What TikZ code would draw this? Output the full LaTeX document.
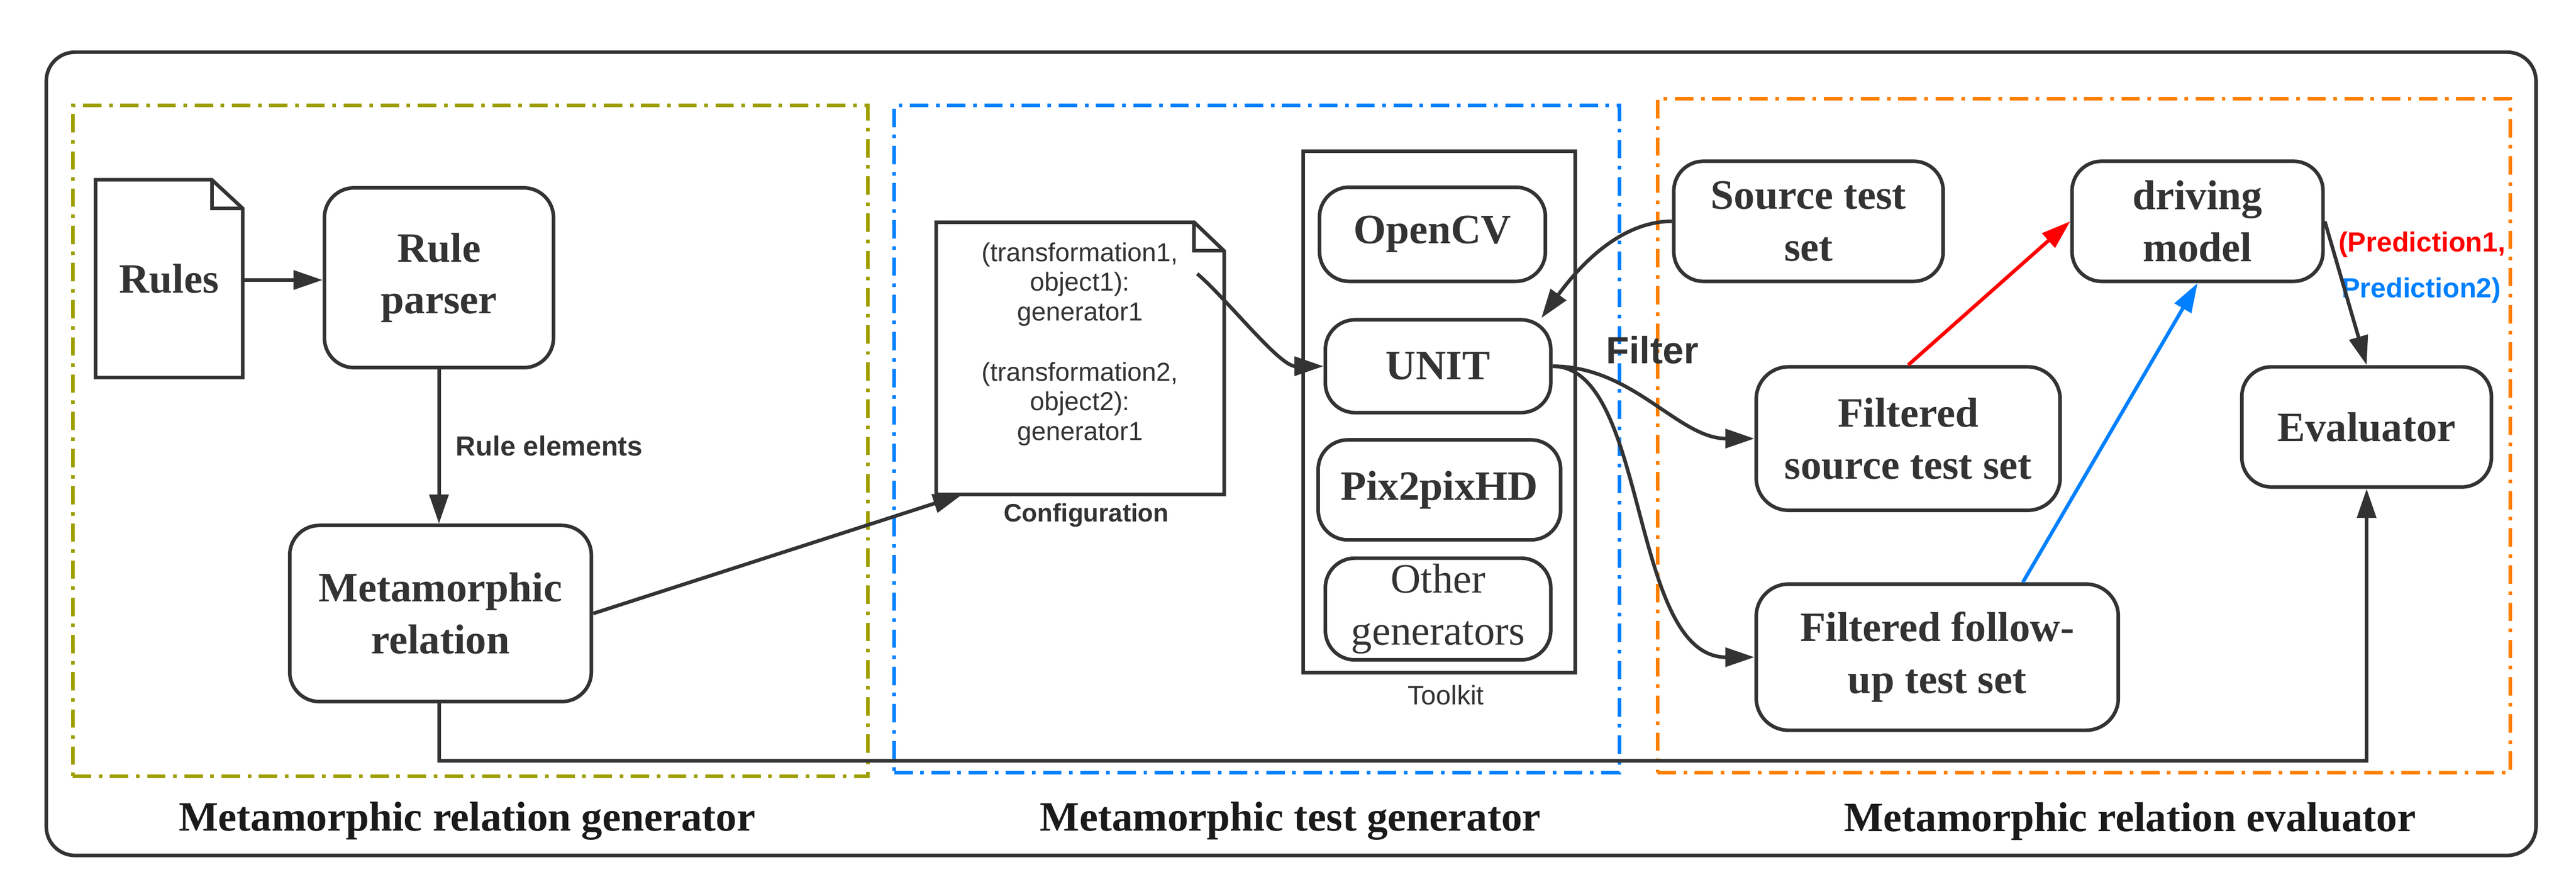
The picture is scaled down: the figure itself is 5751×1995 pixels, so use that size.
\documentclass[tikz,border=0pt]{standalone}
\usepackage{fontspec}
\setmainfont{Liberation Serif}
\setsansfont{Liberation Sans}
\usetikzlibrary{arrows.meta,calc}
\definecolor{dk}{HTML}{333333}
\definecolor{ttl}{HTML}{1A1A1A}
\definecolor{gframecol}{HTML}{9E9E00}
\definecolor{bframecol}{HTML}{0080FF}
\definecolor{oframecol}{HTML}{FF8000}
\definecolor{redarr}{HTML}{FF0000}
\definecolor{bluearr}{HTML}{0080FF}
\tikzset{
  box/.style={draw=dk, line width=0.08cm, rounded corners=0.66cm, align=center,
    font=\bfseries\fontsize{26.5}{33}\selectfont, text=dk, inner sep=0pt},
  docnode/.style={draw=none, inner sep=0pt, align=center, text=dk},
  docline/.style={draw=dk, line width=0.08cm, line join=miter},
  frame/.style={draw, line width=0.08cm, dash pattern=on 0.41cm off 0.17cm on 0.08cm off 0.17cm, inner sep=0pt},
  ttlnode/.style={font=\bfseries\fontsize{26.5}{33}\selectfont, text=ttl},
  lblnode/.style={font=\sffamily\bfseries\fontsize{17.5}{21}\selectfont, text=dk, inner sep=0pt},
  arr/.style={color=dk, line width=0.08cm, -{Triangle[length=0.65cm,width=0.42cm]}},
  plainline/.style={draw=dk, line width=0.08cm},
}
\begin{document}
\begin{tikzpicture}[x=0.01cm,y=-0.01cm]
\useasboundingbox (0,0) rectangle (5751,1995);
% outer
\node[draw=dk, line width=0.08cm, rounded corners=0.64cm, minimum width=55.55cm, minimum height=17.92cm] (outer) at (2882.5,1013) {};
% frames
\node[frame, draw=gframecol, minimum width=17.74cm, minimum height=14.96cm] (gframe) at (1050,984) {};
\node[frame, draw=bframecol, minimum width=16.18cm, minimum height=14.88cm] (bframe) at (2806,980) {};
\node[frame, draw=oframecol, minimum width=19.03cm, minimum height=15.03cm] (oframe) at (4652.5,972.5) {};
% titles
\node[ttlnode] (t1) at (1043,1833) {Metamorphic relation generator};
\node[ttlnode] (t2) at (2881,1833) {Metamorphic test generator};
\node[ttlnode] (t3) at (4755,1833) {Metamorphic relation evaluator};
% Rules document
\node[docnode, minimum width=3.27cm, minimum height=4.40cm, font=\bfseries\fontsize{26.5}{33}\selectfont] (rules) at (377.5,622) {Rules};
\draw[docline] (rules.south west) -- (rules.north west) -- ($(rules.north east)+(-69,0)$) -- ($(rules.north east)+(0,64)$) -- (rules.south east) -- cycle;
\draw[docline] ($(rules.north east)+(-69,0)$) -- ($(rules.north east)+(-69,64)$) -- ($(rules.north east)+(0,64)$);
% generator boxes
\node[box, minimum width=5.11cm, minimum height=4.01cm] (parser) at (980,620) {Rule\\parser};
\node[box, minimum width=6.73cm, minimum height=3.93cm] (mr) at (983.5,1369.5) {Metamorphic\\relation};
\node[lblnode, anchor=west] (rulel) at (1017,995) {Rule elements};
% Configuration document
\node[docnode, minimum width=6.41cm, minimum height=6.06cm] (config) at (2411.5,800) {};
\draw[docline] (config.south west) -- (config.north west) -- ($(config.north east)+(-67,0)$) -- ($(config.north east)+(0,64)$) -- (config.south east) -- cycle;
\draw[docline] ($(config.north east)+(-67,0)$) -- ($(config.north east)+(-67,64)$) -- ($(config.north east)+(0,64)$);
\node[docnode, font=\sffamily\fontsize{16.5}{18.8}\selectfont] (conftext) at (2411,768)
  {(transformation1,\\object1):\\generator1\\[0.69cm](transformation2,\\object2):\\generator1};
\node[lblnode, font=\sffamily\bfseries\fontsize{16}{19}\selectfont] (conflbl) at (2425,1150) {Configuration};
% Toolkit
\node[draw=dk, line width=0.08cm, minimum width=6.06cm, minimum height=11.63cm, inner sep=0pt] (toolkit) at (3213,919.5) {};
\node[font=\sffamily\fontsize{17}{20}\selectfont, text=dk, inner sep=0pt] (toolkitlbl) at (3228,1552) {Toolkit};
\node[box, minimum width=5.04cm, minimum height=2.10cm] (opencv) at (3198,523) {OpenCV};
\node[box, minimum width=5.03cm, minimum height=2.07cm] (unit) at (3210.5,817.5) {UNIT};
\node[box, minimum width=5.41cm, minimum height=2.23cm] (pix) at (3213.5,1093.5) {Pix2pixHD};
\node[box, minimum width=5.03cm, minimum height=2.27cm, font=\fontsize{26.5}{33}\selectfont] (other) at (3210.5,1359.5) {Other\\generators};
% evaluator side
\node[box, minimum width=6.01cm, minimum height=2.68cm] (source) at (4037.5,494) {Source test\\set};
\node[box, minimum width=5.60cm, minimum height=2.68cm] (drive) at (4906,494) {driving\\model};
\node[box, minimum width=6.78cm, minimum height=3.20cm, rounded corners=0.72cm] (fsrc) at (4260,979) {Filtered\\source test set};
\node[box, minimum width=8.08cm, minimum height=3.26cm, rounded corners=0.72cm] (fup) at (4325,1467) {Filtered follow-\\up test set};
\node[box, minimum width=5.57cm, minimum height=2.68cm] (eval) at (5283.5,953) {Evaluator};
\node[lblnode, font=\sffamily\bfseries\fontsize{24}{28}\selectfont, anchor=base west] (filter) at (3585,812) {Filter};
\node[lblnode, text=redarr, anchor=west] (pred1) at (5220,546) {(Prediction1,};
\node[lblnode, text=bluearr, anchor=west] (pred2) at (5227,648) {Prediction2)};
% connectors
\draw[arr] ([yshift=-0.03cm]rules.east) -- ([yshift=-0.03cm]rules.east -| parser.west);
\draw[arr] (parser.south) -- (parser.south |- mr.north);
\draw[arr] (mr.east) -- ($(config.south west)+(58,0)$);
\draw[arr] ($(config.north east)+(-60,115)$) .. controls +(68,58) and +(-99,0) .. (unit.west);
\draw[arr] (source.west) .. controls +(-117,0) and +(83,-114) .. ([xshift=-0.25cm]unit.north east);
\draw[arr] (unit.east) .. controls +(180,0) and +(-170,0) .. (fsrc.west);
\draw[arr] (unit.east) .. controls +(215,0) and +(-280,0) .. (fup.west);
\draw[arr, color=redarr] (fsrc.north) -- (drive.west);
\draw[arr, color=bluearr] ($(fup.north)+(191,0)$) -- (drive.south);
\draw[arr] (drive.east) -- (eval.north);
\draw[arr] (parser.south |- mr.south) -- ++(0,128) -| (eval.south);
\end{tikzpicture}
\end{document}
